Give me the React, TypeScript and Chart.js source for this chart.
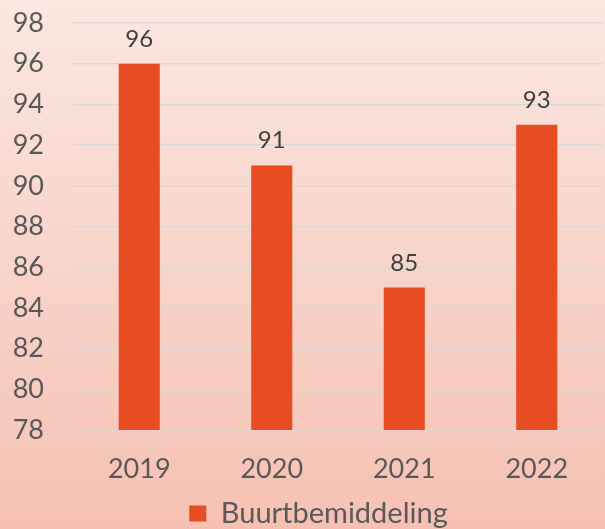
import React, { useEffect, useRef } from "react";
import { Chart, registerables } from "chart.js";

Chart.register(...registerables);

const categories = ["2019", "2020", "2021", "2022"];
const seriesName = "Buurtbemiddeling";
const values = [96, 91, 85, 93];
const yMin = 78;
const yMax = 98;
const yStep = 2;

const FONT = "Lato, 'Open Sans', sans-serif";

const bgPlugin = {
  id: "bg",
  beforeDraw(chart: any) {
    const { ctx, width, height } = chart;
    const g = ctx.createLinearGradient(0, 0, 0, height);
    g.addColorStop(0, "#FBE7E1");
    g.addColorStop(1, "#F6C1B3");
    ctx.save();
    ctx.fillStyle = g;
    ctx.fillRect(0, 0, width, height);
    ctx.restore();
  },
};

const legendShift = {
  id: "legendShift",
  afterLayout(chart: any) {
    const lg = chart.legend;
    if (!lg) return;
    lg.left += 34;
    lg.top += 9;
    lg.bottom += 9;
  },
};

const labelPlugin = {
  id: "vals",
  afterDatasetsDraw(chart: any) {
    const { ctx } = chart;
    const meta = chart.getDatasetMeta(0);
    ctx.save();
    ctx.font = `24px ${FONT}`;
    ctx.fillStyle = "#404040";
    ctx.textAlign = "center";
    ctx.textBaseline = "alphabetic";
    meta.data.forEach((bar: any, i: number) => {
      ctx.fillText(String(values[i]), bar.x, bar.y - 17);
    });
    ctx.restore();
  },
};

export default function App() {
  const ref = useRef<HTMLCanvasElement>(null);
  useEffect(() => {
    document.body.style.margin = "0";
    const chart = new Chart(ref.current!, {
      type: "bar",
      data: {
        labels: categories,
        datasets: [
          {
            label: seriesName,
            data: values,
            backgroundColor: "#E84C22",
            borderWidth: 0,
            categoryPercentage: 1,
            barPercentage: 0.31,
          },
        ],
      },
      options: {
        animation: false,
        responsive: false,
        layout: { padding: { top: 23, right: 2, left: 0, bottom: 0 } },
        scales: {
          x: {
            grid: { display: false },
            border: { display: false },
            ticks: {
              color: "#595959",
              font: { family: FONT, size: 27 },
              padding: 15,
            },
            afterFit(axis: any) {
              axis.height = 60;
            },
          },
          y: {
            min: yMin,
            max: yMax,
            ticks: {
              stepSize: yStep,
              color: "#595959",
              font: { family: FONT, size: 27 },
              padding: 29,
            },
            grid: { color: "#D9D9D9", lineWidth: 1.5, drawTicks: false },
            border: { display: false },
            afterFit(axis: any) {
              axis.width = 73;
              axis.paddingTop = 0;
              axis.paddingBottom = 0;
            },
          },
        },
        plugins: {
          legend: {
            position: "bottom",
            labels: {
              color: "#595959",
              font: { family: FONT, size: 29 },
              boxWidth: 17,
              boxHeight: 16,
              padding: 0,
            },
          },
          tooltip: { enabled: false },
        },
      },
      plugins: [bgPlugin, legendShift, labelPlugin],
    });
    return () => chart.destroy();
  }, []);
  return (
    <div style={{ position: "fixed", left: 0, top: 0, width: 605, height: 529 }}>
      <canvas ref={ref} width={605} height={529} style={{ display: "block" }} />
    </div>
  );
}
